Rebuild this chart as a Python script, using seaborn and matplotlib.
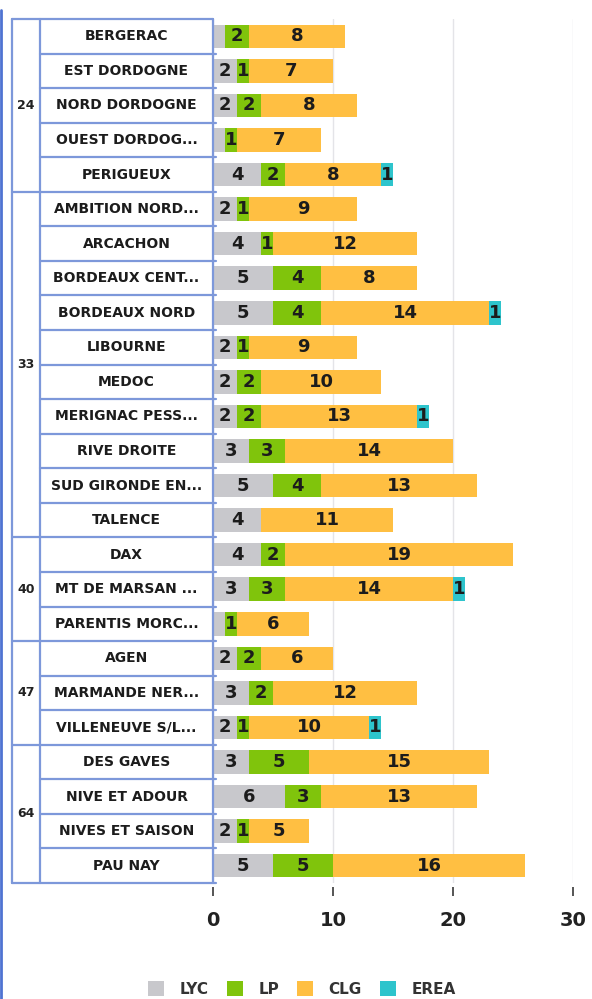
import numpy as np
import pandas as pd
import seaborn as sns
import matplotlib.pyplot as plt
from matplotlib.patches import Patch
from matplotlib.lines import Line2D

# departments and the number of basins in each
groups = ['24', '33', '40', '47', '64']
group_sizes = [5, 10, 3, 3, 4]

names = ['BERGERAC', 'EST DORDOGNE', 'NORD DORDOGNE', 'OUEST DORDOG...', 'PERIGUEUX',
         'AMBITION NORD...', 'ARCACHON', 'BORDEAUX CENT...', 'BORDEAUX NORD', 'LIBOURNE',
         'MEDOC', 'MERIGNAC PESS...', 'RIVE DROITE', 'SUD GIRONDE EN...', 'TALENCE',
         'DAX', 'MT DE MARSAN ...', 'PARENTIS MORC...',
         'AGEN', 'MARMANDE NER...', 'VILLENEUVE S/L...',
         'DES GAVES', 'NIVE ET ADOUR', 'NIVES ET SAISON', 'PAU NAY']
lyc = [1, 2, 2, 1, 4, 2, 4, 5, 5, 2, 2, 2, 3, 5, 4, 4, 3, 1, 2, 3, 2, 3, 6, 2, 5]
lp = [2, 1, 2, 1, 2, 1, 1, 4, 4, 1, 2, 2, 3, 4, 0, 2, 3, 1, 2, 2, 1, 5, 3, 1, 5]
clg = [8, 7, 8, 7, 8, 9, 12, 8, 14, 9, 10, 13, 14, 13, 11, 19, 14, 6, 6, 12, 10, 15, 13, 5, 16]
erea = [0, 0, 0, 0, 1, 0, 0, 0, 1, 0, 0, 1, 0, 0, 0, 0, 1, 0, 0, 0, 1, 0, 0, 0, 0]

series = ['LYC', 'LP', 'CLG', 'EREA']
colors = ['#c8c8cc', '#80c40c', '#ffbf42', '#2ec4cc']

df = pd.DataFrame({'name': names, 'LYC': lyc, 'LP': lp, 'CLG': clg, 'EREA': erea})
cum = df[series].cumsum(axis=1)

W, H = 592, 999
LINE = '#7d98da'


def box(x0, y0, x1, y1):
    return [x0 / W, 1 - y1 / H, (x1 - x0) / W, (y1 - y0) / H]


sns.set_style('white')
plt.rcParams['font.family'] = ['DejaVu Sans']

fig = plt.figure(figsize=(W / 100, H / 100), dpi=100)
ax = fig.add_axes(box(213, 19, 573, 883))
tab = fig.add_axes(box(12, 19, 213, 883))

# stacked bars: overlay the cumulative totals, widest first
for s, c in reversed(list(zip(series, colors))):
    sns.barplot(x=cum[s], y=df['name'], orient='h', color=c, saturation=1,
                width=0.68, errorbar=None, linewidth=0, ax=ax)

for i, row in df.iterrows():
    start = 0
    for s in series:
        v = row[s]
        if v > 0 and not (s == 'LYC' and v == 1):
            ax.text(start + v / 2, i, str(v), ha='center', va='center',
                    fontsize=13, fontweight='bold', color='#1c1c1c')
        start += v

ax.set_xlim(0, 30)
ax.set_ylim(24.5, -0.5)
ax.set_xticks([0, 10, 20, 30])
ax.set_yticks([])
ax.set_xlabel('')
ax.set_ylabel('')
ax.grid(axis='x', color='#e4e4e8', linewidth=1)
ax.set_axisbelow(True)
for sp in ax.spines.values():
    sp.set_visible(False)
ax.spines['bottom'].set_position(('outward', 3))
ax.tick_params(axis='x', bottom=True, length=6.5, width=1.4, color='#555555',
               pad=11, labelsize=14, labelcolor='#222222')
for t in ax.get_xticklabels():
    t.set_fontweight('bold')

# the table of departments / basins on the left
tab.set_xlim(12, 213)
tab.set_ylim(24.5, -0.5)
tab.axis('off')
kw = dict(color=LINE, linewidth=1.6, clip_on=False)
tab.plot([12, 213], [-0.5, -0.5], **kw)
for x in [12, 40, 213]:
    tab.plot([x, x], [-0.5, 24.5], **kw)
ends = np.cumsum(group_sizes)
starts = ends - np.array(group_sizes)
for g, s0, e in zip(groups, starts, ends):
    tab.plot([12, 216], [e - 0.5, e - 0.5], **kw)
    for r in range(s0 + 1, e):
        tab.plot([40, 216], [r - 0.5, r - 0.5], **kw)
    tab.text(26, (s0 + e - 1) / 2, g, ha='center', va='center',
             fontsize=9, fontweight='bold', color='#222222')
for i, n in enumerate(names):
    tab.text(126.5, i, n, ha='center', va='center', fontsize=10,
             fontweight='bold', color='#1c1c1c')

# blue page edge on the left
fig.add_artist(Line2D([0.002, 0.002], [0, 1 - 10 / H], color='#4f73d2',
                      linewidth=2, transform=fig.transFigure))

handles = [Patch(facecolor=c, edgecolor='none') for c in colors]
fig.legend(handles, series, loc='center', bbox_to_anchor=(0.51, 1 - 989 / H),
           ncol=4, frameon=False, handlelength=1.05, handleheight=1.05,
           handletextpad=1.0, columnspacing=1.2, borderpad=0,
           prop={'size': 11, 'weight': 'bold'}, labelcolor='#333333')

fig.savefig('out.png', dpi=100)
